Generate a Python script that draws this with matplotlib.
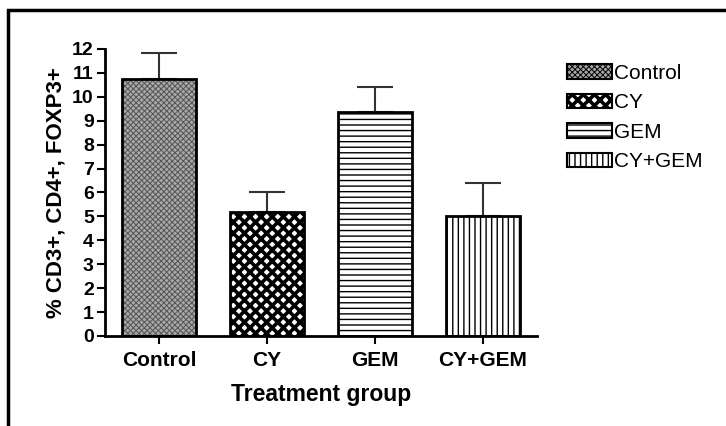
import matplotlib.pyplot as plt
from matplotlib.patches import Patch, Rectangle

groups = ["Control", "CY", "GEM", "CY+GEM"]
means = [10.75, 5.2, 9.35, 5.0]
sem = [1.08, 0.82, 1.05, 1.4]
yticks = list(range(0, 13))

# fill pattern per group: (facecolor, hatch, hatch colour, hatch linewidth)
styles = [
    ("#a8a8a8", "xxxxxx", "#555555", 0.7),
    ("white", "xxx", "black", 2.6),
    ("white", "---", "black", 1.0),
    ("white", "|||", "black", 1.0),
]

plt.rcParams["font.family"] = ["Liberation Sans", "DejaVu Sans"]

fig = plt.figure(figsize=(7.26, 4.26), dpi=100)
ax = fig.add_axes([0.1446, 0.2113, 0.595, 0.6737])

x = list(range(len(groups)))
width = 0.69
for i in x:
    fc, hatch, hc, hlw = styles[i]
    with plt.rc_context({"hatch.linewidth": hlw}):
        ax.bar(x[i], means[i], width, color=fc, hatch=hatch, edgecolor=hc,
               linewidth=0, zorder=2)
    ax.bar(x[i], means[i], width, fill=False, edgecolor="black",
           linewidth=2, zorder=3)

ax.errorbar(x, means, yerr=[[0] * len(sem), sem], fmt="none", ecolor="#333333",
            elinewidth=1.5, capsize=13, capthick=1.5, zorder=1)

ax.set_xlim(-0.5, 3.5)
ax.set_ylim(0, 12)
ax.set_yticks(yticks)
ax.set_xticks(x)
ax.set_xticklabels(groups, fontsize=15, fontweight="bold")
ax.set_yticklabels([str(t) for t in yticks], fontsize=14, fontweight="bold")
ax.tick_params(axis="both", direction="out", length=6, width=1.5, pad=2)
ax.tick_params(axis="x", pad=5)
for s in ["top", "right"]:
    ax.spines[s].set_visible(False)
for s in ["left", "bottom"]:
    ax.spines[s].set_linewidth(2)

ax.set_xlabel("Treatment group", fontsize=16.5, fontweight="bold", labelpad=9)
ax.set_ylabel("% CD3+, CD4+, FOXP3+", fontsize=16, fontweight="bold", labelpad=4)

handles = [Patch(facecolor=s[0], hatch=s[1], edgecolor="black", linewidth=1.5, label=g)
           for g, s in zip(groups, styles)]
leg = fig.legend(handles=handles, loc="upper left", bbox_to_anchor=(0.781, 0.85),
                 frameon=False, fontsize=15, handlelength=2.15, handleheight=0.7,
                 handletextpad=0.1, labelspacing=0.5, borderaxespad=0, borderpad=0)
# legend swatches need the same hatch weights as the bars
for p, s in zip(leg.get_patches(), styles):
    if hasattr(p, "set_hatch_linewidth"):
        p.set_hatch_linewidth(s[3])
    else:
        p._hatch_linewidth = s[3]

# outer frame around the figure panel
fig.patches.append(Rectangle((0.011, -0.1), 1.1, 1.0765, transform=fig.transFigure,
                             fill=False, edgecolor="black", linewidth=2.5))

fig.savefig("out.png", dpi=100)
